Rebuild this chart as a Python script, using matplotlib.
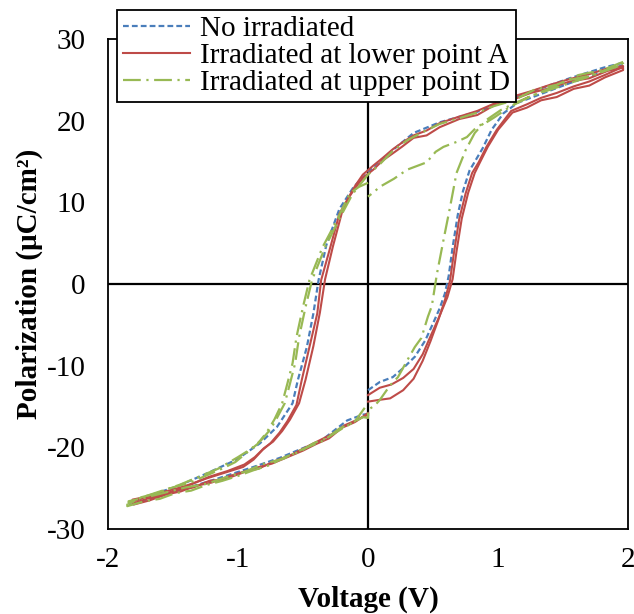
import matplotlib
matplotlib.use("Agg")
import matplotlib.pyplot as plt

plt.rcParams['font.family'] = ['Liberation Serif', 'DejaVu Serif']
plt.rcParams['axes.unicode_minus'] = False

# No irradiated
blue_v = [0.00, 0.09, 0.19, 0.27, 0.36, 0.44, 0.50, 0.55, 0.59, 0.62, 0.65, 0.69, 0.73, 0.78, 0.88, 0.95, 1.04, 1.15, 1.30,
          1.55, 1.81, 1.96,
          1.96, 1.81, 1.55, 1.30, 1.04, 0.84, 0.55, 0.35, 0.19, 0.07, 0.00, -0.11, -0.22, -0.32, -0.38, -0.42, -0.47, -0.54,
          -0.58, -0.70, -0.83, -1.01, -1.24, -1.47, -1.70, -1.83,
          -1.83, -1.70, -1.52, -1.19, -0.88, -0.68, -0.47, -0.37, -0.16, -0.04, 0.00]
blue_p = [-13.0, -12.0, -11.4, -10.3, -8.9, -6.9, -4.8, -3.0, -1.2, 1.0, 4.5, 8.5, 11.4, 13.9, 16.6, 18.9, 20.9, 22.2, 23.1,
          24.6, 26.0, 26.8,
          27.1, 26.5, 25.2, 23.8, 22.3, 21.1, 19.8, 18.5, 16.4, 14.8, 13.7, 11.9, 9.2, 4.8, 0.5, -3.6, -7.7, -11.8,
          -14.6, -17.5, -19.5, -21.5, -23.2, -24.8, -26.0, -26.8,
          -27.1, -26.4, -25.6, -24.0, -22.4, -21.3, -19.9, -19.3, -16.7, -16.0, -15.9]

# Irradiated at lower point A (two cycles)
red1_v = [0.00, 0.09, 0.18, 0.27, 0.35, 0.42, 0.48, 0.55, 0.61, 0.65, 0.68, 0.72, 0.77, 0.82, 0.86, 0.92, 1.00, 1.11, 1.22,
          1.33, 1.45, 1.58, 1.70, 1.82, 1.96,
          1.96, 1.84, 1.70, 1.55, 1.40, 1.25, 1.10, 0.97, 0.84, 0.70, 0.55, 0.45, 0.35, 0.26, 0.19, 0.11, 0.04, -0.04, -0.11,
          -0.16, -0.22, -0.29, -0.36, -0.39, -0.45, -0.51, -0.55, -0.62, -0.68, -0.75, -0.81, -0.88, -0.96, -1.10, -1.24,
          -1.38, -1.52, -1.66, -1.81,
          -1.81, -1.70, -1.58, -1.46, -1.34, -1.22, -1.10, -0.98, -0.86, -0.74, -0.62, -0.50, -0.40, -0.30, -0.20, -0.10, 0.00]
red1_p = [-13.6, -12.7, -12.3, -11.5, -10.4, -8.6, -6.4, -3.9, -1.6, 0.6, 4.0, 8.0, 11.2, 13.6, 14.9, 16.8, 18.9, 21.0, 21.6,
          22.5, 22.9, 23.9, 24.3, 25.3, 26.2,
          26.5, 26.1, 25.2, 24.8, 24.0, 23.4, 22.5, 21.9, 20.7, 20.2, 19.2, 18.2, 17.9, 16.8, 16.0, 15.1, 14.0, 13.0, 11.5,
          10.3, 8.6, 4.5, 0.5, -3.6, -7.7, -11.8, -14.8, -16.8, -18.2, -19.5, -20.3, -21.5, -22.4, -23.1, -23.8,
          -24.6, -25.5, -25.9, -26.4,
          -26.9, -26.3, -25.9, -25.2, -24.9, -24.1, -23.9, -23.2, -22.5, -22.0, -21.2, -20.4, -19.6, -18.9, -17.6, -16.9, -15.8]

red2_v = [0.00, 0.08, 0.17, 0.27, 0.35, 0.42, 0.48, 0.54, 0.59, 0.63, 0.66, 0.70, 0.75, 0.80, 0.85, 0.91, 0.99, 1.10, 1.22,
          1.33, 1.45, 1.58, 1.70, 1.82, 1.96,
          1.96, 1.84, 1.70, 1.55, 1.40, 1.25, 1.10, 0.97, 0.84, 0.70, 0.55, 0.45, 0.35, 0.26, 0.19, 0.11, 0.04, -0.04, -0.10,
          -0.15, -0.20, -0.27, -0.33, -0.37, -0.42, -0.48, -0.53, -0.60, -0.66, -0.73, -0.80, -0.87, -0.95, -1.08, -1.22,
          -1.37, -1.51, -1.66, -1.80,
          -1.80, -1.68, -1.56, -1.44, -1.32, -1.20, -1.08, -0.96, -0.84, -0.72, -0.60, -0.48, -0.38, -0.28, -0.18, -0.08, 0.00]
red2_p = [-14.4, -14.2, -14.0, -13.0, -11.6, -9.4, -7.0, -4.4, -2.0, 0.4, 3.8, 7.9, 11.1, 13.6, 14.9, 16.8, 18.9, 21.2, 22.0,
          22.8, 23.4, 24.2, 24.8, 25.6, 26.6,
          26.7, 26.4, 25.7, 25.1, 24.4, 23.6, 22.9, 22.1, 21.2, 20.5, 19.7, 18.8, 18.2, 17.3, 16.5, 15.4, 14.5, 13.4, 12.0,
          10.6, 8.8, 4.6, 0.6, -3.5, -7.6, -11.7, -14.6, -16.6, -18.0, -19.3, -20.1, -21.2, -22.1, -22.9, -23.6,
          -24.6, -25.2, -25.8, -26.6,
          -27.0, -26.5, -25.8, -25.4, -24.7, -24.3, -23.6, -23.0, -22.6, -21.7, -21.0, -20.0, -19.2, -18.4, -17.3, -16.6, -16.0]

# Irradiated at upper point D (two cycles)
greenA_v = [0.00, -0.07, -0.14, -0.24, -0.35, -0.45, -0.50, -0.55, -0.58, -0.62, -0.66, -0.72, -0.78, -0.85, -0.92, -1.02,
            -1.12, -1.25, -1.38, -1.50, -1.62, -1.74, -1.85,
            -1.85, -1.72, -1.60, -1.48, -1.36, -1.24, -1.12, -1.00, -0.88, -0.76, -0.64, -0.52, -0.42, -0.32, -0.22, -0.12,
            -0.04, 0.00,
            0.00, 0.05, 0.09, 0.17, 0.23, 0.31, 0.36, 0.41, 0.46, 0.49, 0.53, 0.58, 0.63, 0.68, 0.75, 0.82, 0.91, 1.02, 1.12,
            1.25, 1.40, 1.55, 1.70, 1.84, 1.96,
            1.96, 1.84, 1.70, 1.55, 1.40, 1.25, 1.09, 0.97, 0.91, 0.84, 0.76, 0.68, 0.58, 0.52, 0.45, 0.35, 0.30, 0.20, 0.09,
            0.04, 0.00]
greenA_p = [12.4, 11.9, 11.1, 7.8, 4.5, 0.5, -2.8, -6.5, -9.7, -12.2, -14.6, -16.6, -18.2, -19.6, -20.5, -21.8,
            -22.6, -23.5, -24.4, -24.9, -25.6, -26.1, -27.0,
            -27.2, -26.6, -26.3, -25.6, -25.3, -24.6, -24.1, -23.5, -22.8, -22.2, -21.2, -20.5, -19.5, -18.9, -17.7, -17.0,
            -16.3, -16.4,
            -15.4, -14.9, -14.2, -12.4, -11.4, -9.1, -7.7, -6.6, -4.0, -2.7, 1.3, 5.4, 9.4, 13.6, 16.4, 18.5, 20.1, 21.3, 22.1,
            23.0, 23.8, 24.6, 25.4, 26.2, 26.9,
            27.0, 26.3, 25.5, 25.0, 24.0, 23.0, 21.7, 20.4, 19.8, 19.3, 18.0, 17.4, 16.8, 16.2, 14.9, 14.3, 14.0, 12.9, 11.9,
            11.2, 10.7]

greenB_v = [1.96, 1.80, 1.62, 1.45, 1.28, 1.12, 0.97, 0.84, 0.70, 0.55, 0.42, 0.30, 0.19, 0.08, 0.00, -0.12, -0.22, -0.33,
            -0.43, -0.48, -0.53, -0.56, -0.60, -0.64, -0.70, -0.75, -0.82, -0.90, -1.00, -1.15, -1.30, -1.45, -1.60, -1.75,
            -1.84,
            -1.84, -1.70, -1.55, -1.40, -1.25, -1.10, -0.95, -0.80, -0.65, -0.50, -0.36, -0.22, -0.10, 0.00]
greenB_p = [27.2, 26.2, 25.6, 24.4, 23.8, 22.5, 21.8, 21.0, 20.3, 19.6, 18.6, 17.6, 16.3, 14.5, 13.4, 11.0, 8.0, 4.5,
            0.5, -2.8, -6.5, -9.7, -12.2, -14.6, -16.4, -17.8, -19.1, -20.2, -21.2, -22.6, -23.6, -24.6, -25.4, -26.2,
            -26.9,
            -26.6, -26.1, -25.5, -24.9, -24.5, -23.7, -23.0, -22.0, -21.4, -20.2, -19.3, -17.9, -16.8, -14.6]

labels = ["No irradiated", "Irradiated at lower point A", "Irradiated at upper point D"]
c_blue = "#4a7ebb"
c_red = "#be4b48"
c_green = "#98b954"
blue_ls = (0, (2.6, 1.4))
green_ls = (0, (8, 2.5, 1, 2.5))


def main():
  fig = plt.figure(figsize=(6.34, 6.14), dpi=100)
  ax = fig.add_axes([0.170, 0.1384, 0.821, 0.798])

  ax.axhline(0, color="black", lw=1.6, zorder=1)
  ax.axvline(0, color="black", lw=1.6, zorder=1)

  ax.plot(blue_v, blue_p, color=c_blue, lw=1.6, ls=blue_ls, label=labels[0], zorder=2)
  ax.plot(red1_v, red1_p, color=c_red, lw=1.5, label=labels[1], zorder=3)
  ax.plot(red2_v, red2_p, color=c_red, lw=1.5, zorder=3)
  ax.plot(greenA_v, greenA_p, color=c_green, lw=1.6, ls=green_ls, label=labels[2], zorder=4)
  ax.plot(greenB_v, greenB_p, color=c_green, lw=1.6, ls=green_ls, zorder=4)

  ax.set_xlim(-2, 2)
  ax.set_ylim(-30, 30)
  ax.set_xticks([-2, -1, 0, 1, 2])
  ax.set_yticks([-30, -20, -10, 0, 10, 20, 30])
  ax.tick_params(length=0, labelsize=21)
  ax.tick_params(axis="x", pad=13)
  ax.tick_params(axis="y", pad=16)
  for s in ax.spines.values():
    s.set_linewidth(1.3)
    s.set_color("black")

  ax.set_xlabel("Voltage (V)", fontsize=21, fontweight="bold", labelpad=9)
  ax.set_ylabel("Polarization (μC/cm²)", fontsize=21, fontweight="bold", labelpad=3)

  leg = ax.legend(loc="upper left", bbox_to_anchor=(0.185, 0.984), bbox_transform=fig.transFigure,
                  fontsize=21, frameon=True, fancybox=False, edgecolor="black", framealpha=1,
                  borderaxespad=0, borderpad=0.2, labelspacing=0.02, handlelength=2.3, handletextpad=0.35)
  leg.get_frame().set_linewidth(1.3)
  leg.set_zorder(10)

  fig.savefig("out.png", dpi=100)


if __name__ == "__main__":
  main()
